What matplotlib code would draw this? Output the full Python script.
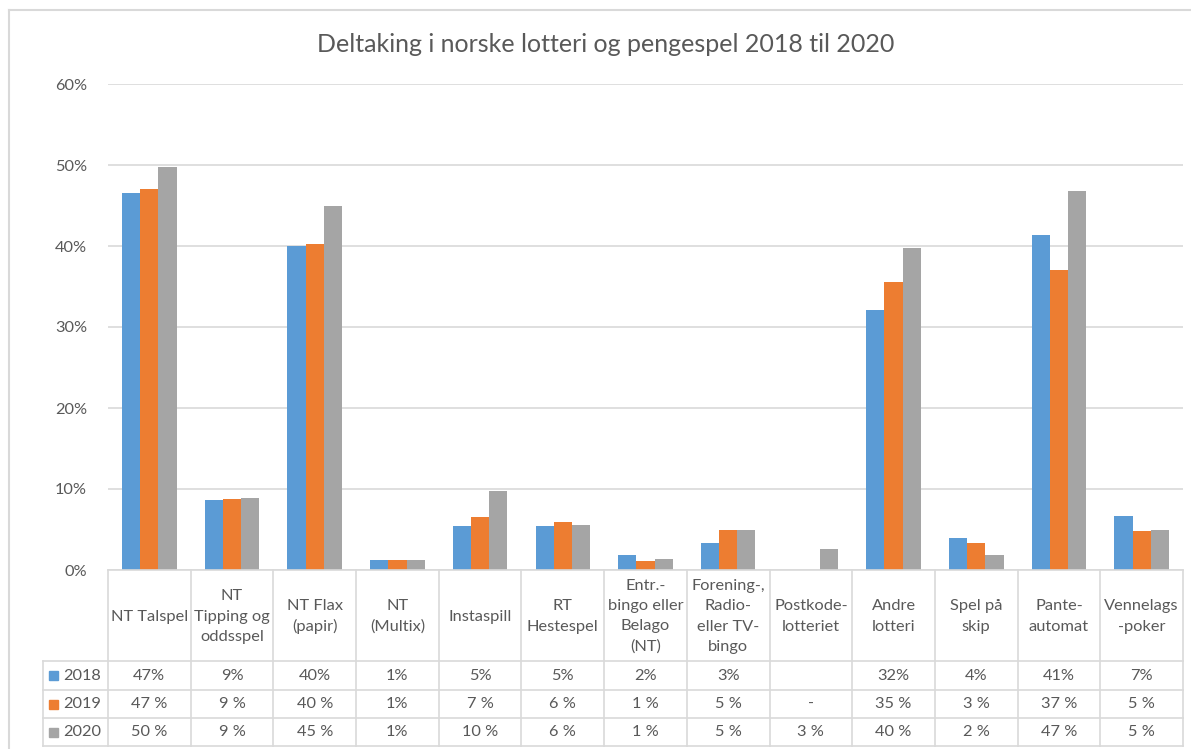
import numpy as np
import matplotlib
matplotlib.use("Agg")
import matplotlib.pyplot as plt
from matplotlib.lines import Line2D
from matplotlib.patches import Rectangle
from matplotlib.transforms import blended_transform_factory

# ── Data ──────────────────────────────────────────────────────────────────────
categories = [
    "NT Talspel",
    "NT\nTipping og\noddsspel",
    "NT Flax\n(papir)",
    "NT\n(Multix)",
    "Instaspill",
    "RT\nHestespel",
    "Entr.-\nbingo eller\nBelago\n(NT)",
    "Forening-,\nRadio-\neller TV-\nbingo",
    "Postkode-\nlotteriet",
    "Andre\nlotteri",
    "Spel på\nskip",
    "Pante-\nautomat",
    "Vennelags\n-poker",
]
years = ["2018", "2019", "2020"]
v2018 = [46.6, 8.6, 40.0, 1.2, 5.4, 5.4, 1.9, 3.3, np.nan, 32.1, 4.0, 41.3, 6.7]
v2019 = [47.0, 8.8, 40.3, 1.2, 6.6, 5.9, 1.1, 4.9, np.nan, 35.5, 3.3, 37.0, 4.8]
v2020 = [49.8, 8.9, 44.9, 1.2, 9.7, 5.6, 1.3, 4.9, 2.6, 39.7, 1.8, 46.8, 5.0]
t2018 = ["47%", "9%", "40%", "1%", "5%", "5%", "2%", "3%", "", "32%", "4%", "41%", "7%"]
t2019 = ["47 %", "9 %", "40 %", "1%", "7 %", "6 %", "1 %", "5 %", "-", "35 %", "3 %", "37 %", "5 %"]
t2020 = ["50 %", "9 %", "45 %", "1%", "10 %", "6 %", "1 %", "5 %", "3 %", "40 %", "2 %", "47 %", "5 %"]
colors = ["#5B9BD5", "#ED7D31", "#A5A5A5"]

plt.rcParams["font.family"] = ["Lato", "DejaVu Sans"]
txt = "#595959"
grid = "#D9D9D9"

W, H = 1191, 749
fig = plt.figure(figsize=(W / 100, H / 100), dpi=100)


def fx(px):
    return px / W


def fy(py):
    return 1 - py / H


# plot area in pixels: x 108..1183, y 84..570
ax = fig.add_axes([fx(108), fy(570), fx(1183 - 108), (570 - 84) / H])
x = np.arange(len(categories))
bw = 0.22
for i, (vals, c) in enumerate(zip([v2018, v2019, v2020], colors)):
    ax.bar(x + (i - 1) * bw, np.array(vals) / 100, bw, color=c, zorder=3)

ax.set_xlim(-0.5, len(categories) - 0.5)
ax.set_ylim(0, 0.6)
ax.set_yticks(np.arange(0, 0.61, 0.1))
ax.set_yticklabels([f"{int(round(t * 100))}%" for t in np.arange(0, 0.61, 0.1)])
ax.tick_params(axis="y", length=0, pad=15, labelsize=11.8, labelcolor=txt)
ax.set_xticks([])
for s in ax.spines.values():
    s.set_visible(False)
ax.yaxis.grid(True, color=grid, lw=1.2, zorder=0)

# title centred on the whole chart area, not the plot area
fig.text(fx(606), fy(45), "Deltaking i norske lotteri og pengespel 2018 til 2020",
         ha="center", va="center", fontsize=18, color=txt)

# ── Data table below the plot ────────────────────────────────────────────────
tr = blended_transform_factory(ax.transData, fig.transFigure)
lkw = dict(color=grid, lw=1.2)
y_top, y_cat, rows_y = 570, 661, [661, 690, 718, 746]

# horizontal lines
fig.add_artist(Line2D([-0.5, len(categories) - 0.5], [fy(y_top)] * 2, transform=tr, **lkw))
for yy in rows_y:
    fig.add_artist(Line2D([fx(43), fx(1183)], [fy(yy)] * 2, transform=fig.transFigure, **lkw))
# vertical lines
for k in range(len(categories) + 1):
    fig.add_artist(Line2D([k - 0.5] * 2, [fy(y_top), fy(746)], transform=tr, **lkw))
fig.add_artist(Line2D([fx(43)] * 2, [fy(661), fy(746)], transform=fig.transFigure, **lkw))

# category labels
for k, lab in enumerate(categories):
    fig.text(k, fy((y_top + y_cat) / 2 + 1), lab, transform=tr, ha="center", va="center",
             fontsize=11.8, color=txt, linespacing=1.55)

# value rows with legend keys
for r, (yr, labels, c) in enumerate(zip(years, [t2018, t2019, t2020], colors)):
    yc = fy((rows_y[r] + rows_y[r + 1]) / 2)
    fig.add_artist(Rectangle((fx(49), yc - 4.5 / H), 9 / W, 9 / H, color=c,
                             transform=fig.transFigure))
    fig.text(fx(63), yc, yr, ha="left", va="center", fontsize=11.8, color=txt)
    for k, s in enumerate(labels):
        fig.text(k, yc, s, transform=tr, ha="center", va="center", fontsize=11.8, color=txt)

# outer chart border
fig.add_artist(Line2D([fx(9), fx(9)], [fy(10), 0], transform=fig.transFigure, color=grid, lw=1.5))
fig.add_artist(Line2D([fx(9), 1], [fy(10), fy(10)], transform=fig.transFigure, color=grid, lw=1.5))

fig.savefig("out.png", dpi=100, facecolor="white")
